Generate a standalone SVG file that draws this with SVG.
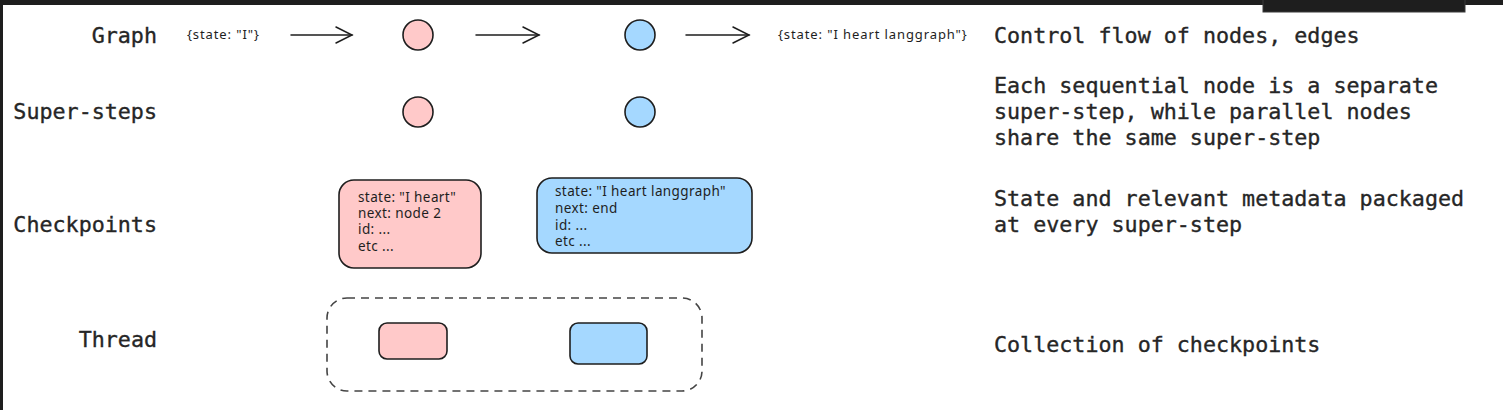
<svg xmlns="http://www.w3.org/2000/svg" width="1503" height="410" viewBox="0 0 1503 410">
<style>
.mono{font-family:"DejaVu Sans Mono","Liberation Mono",monospace;font-size:21.7px;fill:#262626;stroke:#262626;stroke-width:0.35}
.lbl{text-anchor:end}
.hand{font-family:"Noto Sans","Liberation Sans",sans-serif;font-size:13px;letter-spacing:0.9px;fill:#1e1e1e}
.box{font-size:13.5px;letter-spacing:0.4px}
.pink{fill:#ffc9c9;stroke:#1e1e1e;stroke-width:1.6}
.blue{fill:#a5d8ff;stroke:#1e1e1e;stroke-width:1.6}
.edge{fill:none;stroke:#1e1e1e;stroke-width:1.5;stroke-linecap:round}
</style>
<defs>
<marker id="arr" viewBox="0 0 20 20" refX="18" refY="10" markerWidth="20" markerHeight="20" markerUnits="userSpaceOnUse" orient="auto">
<path d="M2,2 L18,10 L2,18" fill="none" stroke="#1e1e1e" stroke-width="1.5" stroke-linecap="round"/>
</marker>
</defs>
<rect width="1503" height="410" fill="#ffffff"/>
<rect x="0" y="0" width="1503" height="5" fill="#1e1e1e"/>
<rect x="0" y="0" width="3" height="410" fill="#1e1e1e"/>
<rect x="1263" y="-1" width="202" height="13" fill="#1e1e1e" stroke="#3a3a3a" stroke-width="1"/>

<g id="row-labels">
<text class="mono lbl" x="157" y="43">Graph</text>
<text class="mono lbl" x="157" y="119">Super-steps</text>
<text class="mono lbl" x="157" y="232">Checkpoints</text>
<text class="mono lbl" x="157" y="347">Thread</text>
</g>

<g id="descriptions">
<text class="mono" x="994" y="43">Control flow of nodes, edges</text>
<text class="mono" x="994" y="93">Each sequential node is a separate</text>
<text class="mono" x="994" y="119">super-step, while parallel nodes</text>
<text class="mono" x="994" y="145">share the same super-step</text>
<text class="mono" x="994" y="206">State and relevant metadata packaged</text>
<text class="mono" x="994" y="232">at every super-step</text>
<text class="mono" x="994" y="352">Collection of checkpoints</text>
</g>

<g id="input-state"><text class="hand" x="187" y="39">{state: "I"}</text></g>
<g id="output-state"><text class="hand" x="778" y="39">{state: "I heart langgraph"}</text></g>

<g id="graph-node1"><circle class="pink" cx="418" cy="35" r="15"/></g>
<g id="graph-node2"><circle class="blue" cx="640" cy="35" r="15"/></g>
<g id="step-node1"><circle class="pink" cx="418" cy="112" r="15"/></g>
<g id="step-node2"><circle class="blue" cx="640" cy="112" r="15"/></g>

<g id="checkpoint1">
<rect class="pink" x="339" y="180" width="142" height="88" rx="15"/>
<text class="hand box" x="358" y="202">state: "I heart"</text>
<text class="hand box" x="358" y="218">next: node 2</text>
<text class="hand box" x="358" y="234">id: ...</text>
<text class="hand box" x="358" y="251">etc ...</text>
</g>
<g id="checkpoint2">
<rect class="blue" x="537" y="178" width="215" height="75" rx="15"/>
<text class="hand box" x="555" y="196">state: "I heart langgraph"</text>
<text class="hand box" x="555" y="213">next: end</text>
<text class="hand box" x="555" y="230">id: ...</text>
<text class="hand box" x="555" y="246">etc ...</text>
</g>

<g id="thread">
<rect x="327" y="298" width="375" height="93" rx="20" fill="none" stroke="#444" stroke-width="1.6" stroke-dasharray="8 6"/>
<rect class="pink" x="379" y="323" width="68" height="36" rx="8"/>
<rect class="blue" x="570" y="323" width="77" height="41" rx="8"/>
</g>

<g id="connectors">
<path class="edge" d="M291,35 L352,35" marker-end="url(#arr)"/>
<path class="edge" d="M476,35 L539,35" marker-end="url(#arr)"/>
<path class="edge" d="M686,35 L749,35" marker-end="url(#arr)"/>
</g>
</svg>
